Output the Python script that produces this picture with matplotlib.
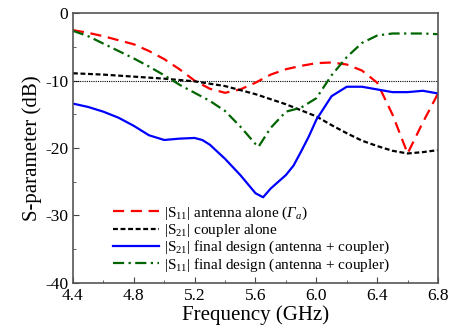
import numpy as np
import matplotlib
matplotlib.use("Agg")
import matplotlib.pyplot as plt

plt.rcParams['font.family'] = ['Liberation Serif', 'DejaVu Serif']
plt.rcParams['mathtext.fontset'] = 'custom'
plt.rcParams['mathtext.rm'] = 'Liberation Serif'
plt.rcParams['mathtext.it'] = 'Liberation Serif:italic'
plt.rcParams['mathtext.cal'] = 'Liberation Serif:italic'
plt.rcParams['axes.unicode_minus'] = False

# |S11| antenna alone
f_red = [4.4, 4.5, 4.6, 4.7, 4.8, 4.9, 5.0, 5.1, 5.2, 5.3, 5.4, 5.5, 5.6, 5.7, 5.8,
         5.9, 6.0, 6.1, 6.2, 6.3, 6.4, 6.5, 6.6, 6.7, 6.8]
s_red = [-2.5, -2.9, -3.4, -4.0, -4.6, -5.6, -6.8, -8.3, -10.0, -11.2, -11.8, -11.3, -10.3,
         -9.1, -8.3, -7.8, -7.4, -7.3, -7.6, -8.5, -10.3, -15.0, -20.8, -16.2, -11.9]

# |S21| coupler alone
f_blk = [4.4, 4.6, 4.8, 5.0, 5.2, 5.4, 5.6, 5.8, 6.0, 6.1, 6.2, 6.3, 6.4, 6.5, 6.6, 6.7, 6.8]
s_blk = [-8.9, -9.1, -9.4, -9.7, -10.1, -10.8, -12.0, -13.5, -15.3, -16.6, -17.8, -18.9,
         -19.7, -20.4, -20.8, -20.6, -20.3]

# |S21| final design
f_blu = [4.4, 4.5, 4.6, 4.7, 4.8, 4.9, 5.0, 5.1, 5.2, 5.25, 5.3, 5.4, 5.5, 5.6, 5.65, 5.7,
         5.75, 5.8, 5.85, 5.9, 5.95, 6.0, 6.1, 6.2, 6.3, 6.4, 6.5, 6.6, 6.7, 6.8]
s_blu = [-13.4, -13.9, -14.6, -15.5, -16.7, -18.1, -18.8, -18.6, -18.5, -18.8, -19.5, -21.6,
         -24.0, -26.7, -27.3, -26.0, -25.0, -24.0, -22.6, -20.5, -18.3, -15.8, -12.3, -10.9,
         -10.9, -11.3, -11.7, -11.7, -11.5, -11.9]

# |S11| final design
f_grn = [4.4, 4.5, 4.6, 4.7, 4.8, 4.9, 5.0, 5.1, 5.2, 5.3, 5.4, 5.5, 5.6, 5.62, 5.7, 5.8,
         5.9, 6.0, 6.1, 6.2, 6.3, 6.4, 6.5, 6.6, 6.7, 6.8]
s_grn = [-2.6, -3.4, -4.5, -5.6, -6.7, -7.9, -9.2, -10.6, -11.8, -13.0, -14.5, -16.8, -19.4,
         -19.8, -17.0, -14.6, -14.0, -12.6, -9.2, -6.5, -4.4, -3.3, -3.0, -3.0, -3.0, -3.1]

labels = [r'$|\mathrm{S}_{11}|$ antenna alone ($\mathcal{Γ}_a$)',
          r'$|\mathrm{S}_{21}|$ coupler alone',
          r'$|\mathrm{S}_{21}|$ final design (antenna + coupler)',
          r'$|\mathrm{S}_{11}|$ final design (antenna + coupler)']

fig = plt.figure(figsize=(4.53, 3.32), dpi=100)
ax = fig.add_axes([0.161, 0.148, 0.806, 0.812])

ax.axhline(-10, color='black', lw=0.8, ls=(0, (1, 1)))
ax.plot(f_red, s_red, color='red', lw=1.6, ls=(0, (5, 3)), label=labels[0])
ax.plot(f_blk, s_blk, color='black', lw=1.6, ls=(0, (2.2, 1.2)), label=labels[1])
ax.plot(f_blu, s_blu, color='blue', lw=1.6, ls='-', label=labels[2])
ax.plot(f_grn, s_grn, color='#006400', lw=1.6, ls=(0, (5, 2, 1, 2)), label=labels[3])

ax.set_xlim(4.4, 6.8)
ax.set_ylim(-40, 0)
ax.set_xticks(np.arange(4.4, 6.81, 0.4))
ax.set_xticks(np.arange(4.6, 6.7, 0.4), minor=True)
ax.set_yticks([0, -10, -20, -30, -40])
ax.set_yticks([-5, -15, -25, -35], minor=True)
ax.set_xticklabels(['4.4', '4.8', '5.2', '5.6', '6.0', '6.4', '6.8'])
ax.set_yticklabels(['0', '-10', '-20', '-30', '-40'])
ax.tick_params(which='both', direction='in', labelsize=12.5, color='#444444')
ax.tick_params(which='major', length=4)
ax.tick_params(which='minor', length=2.5)
for s in ax.spines.values():
    s.set_color('#555555')
    s.set_linewidth(1.2)

ax.set_xlabel('Frequency (GHz)', fontsize=15, labelpad=1)
ax.set_ylabel('S-parameter (dB)', fontsize=15, labelpad=2)

ax.legend(loc='lower left', bbox_to_anchor=(0.085, 0.0), frameon=False, fontsize=11,
          handlelength=3.0, handletextpad=0.3, labelspacing=0.0, borderaxespad=0.2)

fig.savefig('out.png', dpi=100)
